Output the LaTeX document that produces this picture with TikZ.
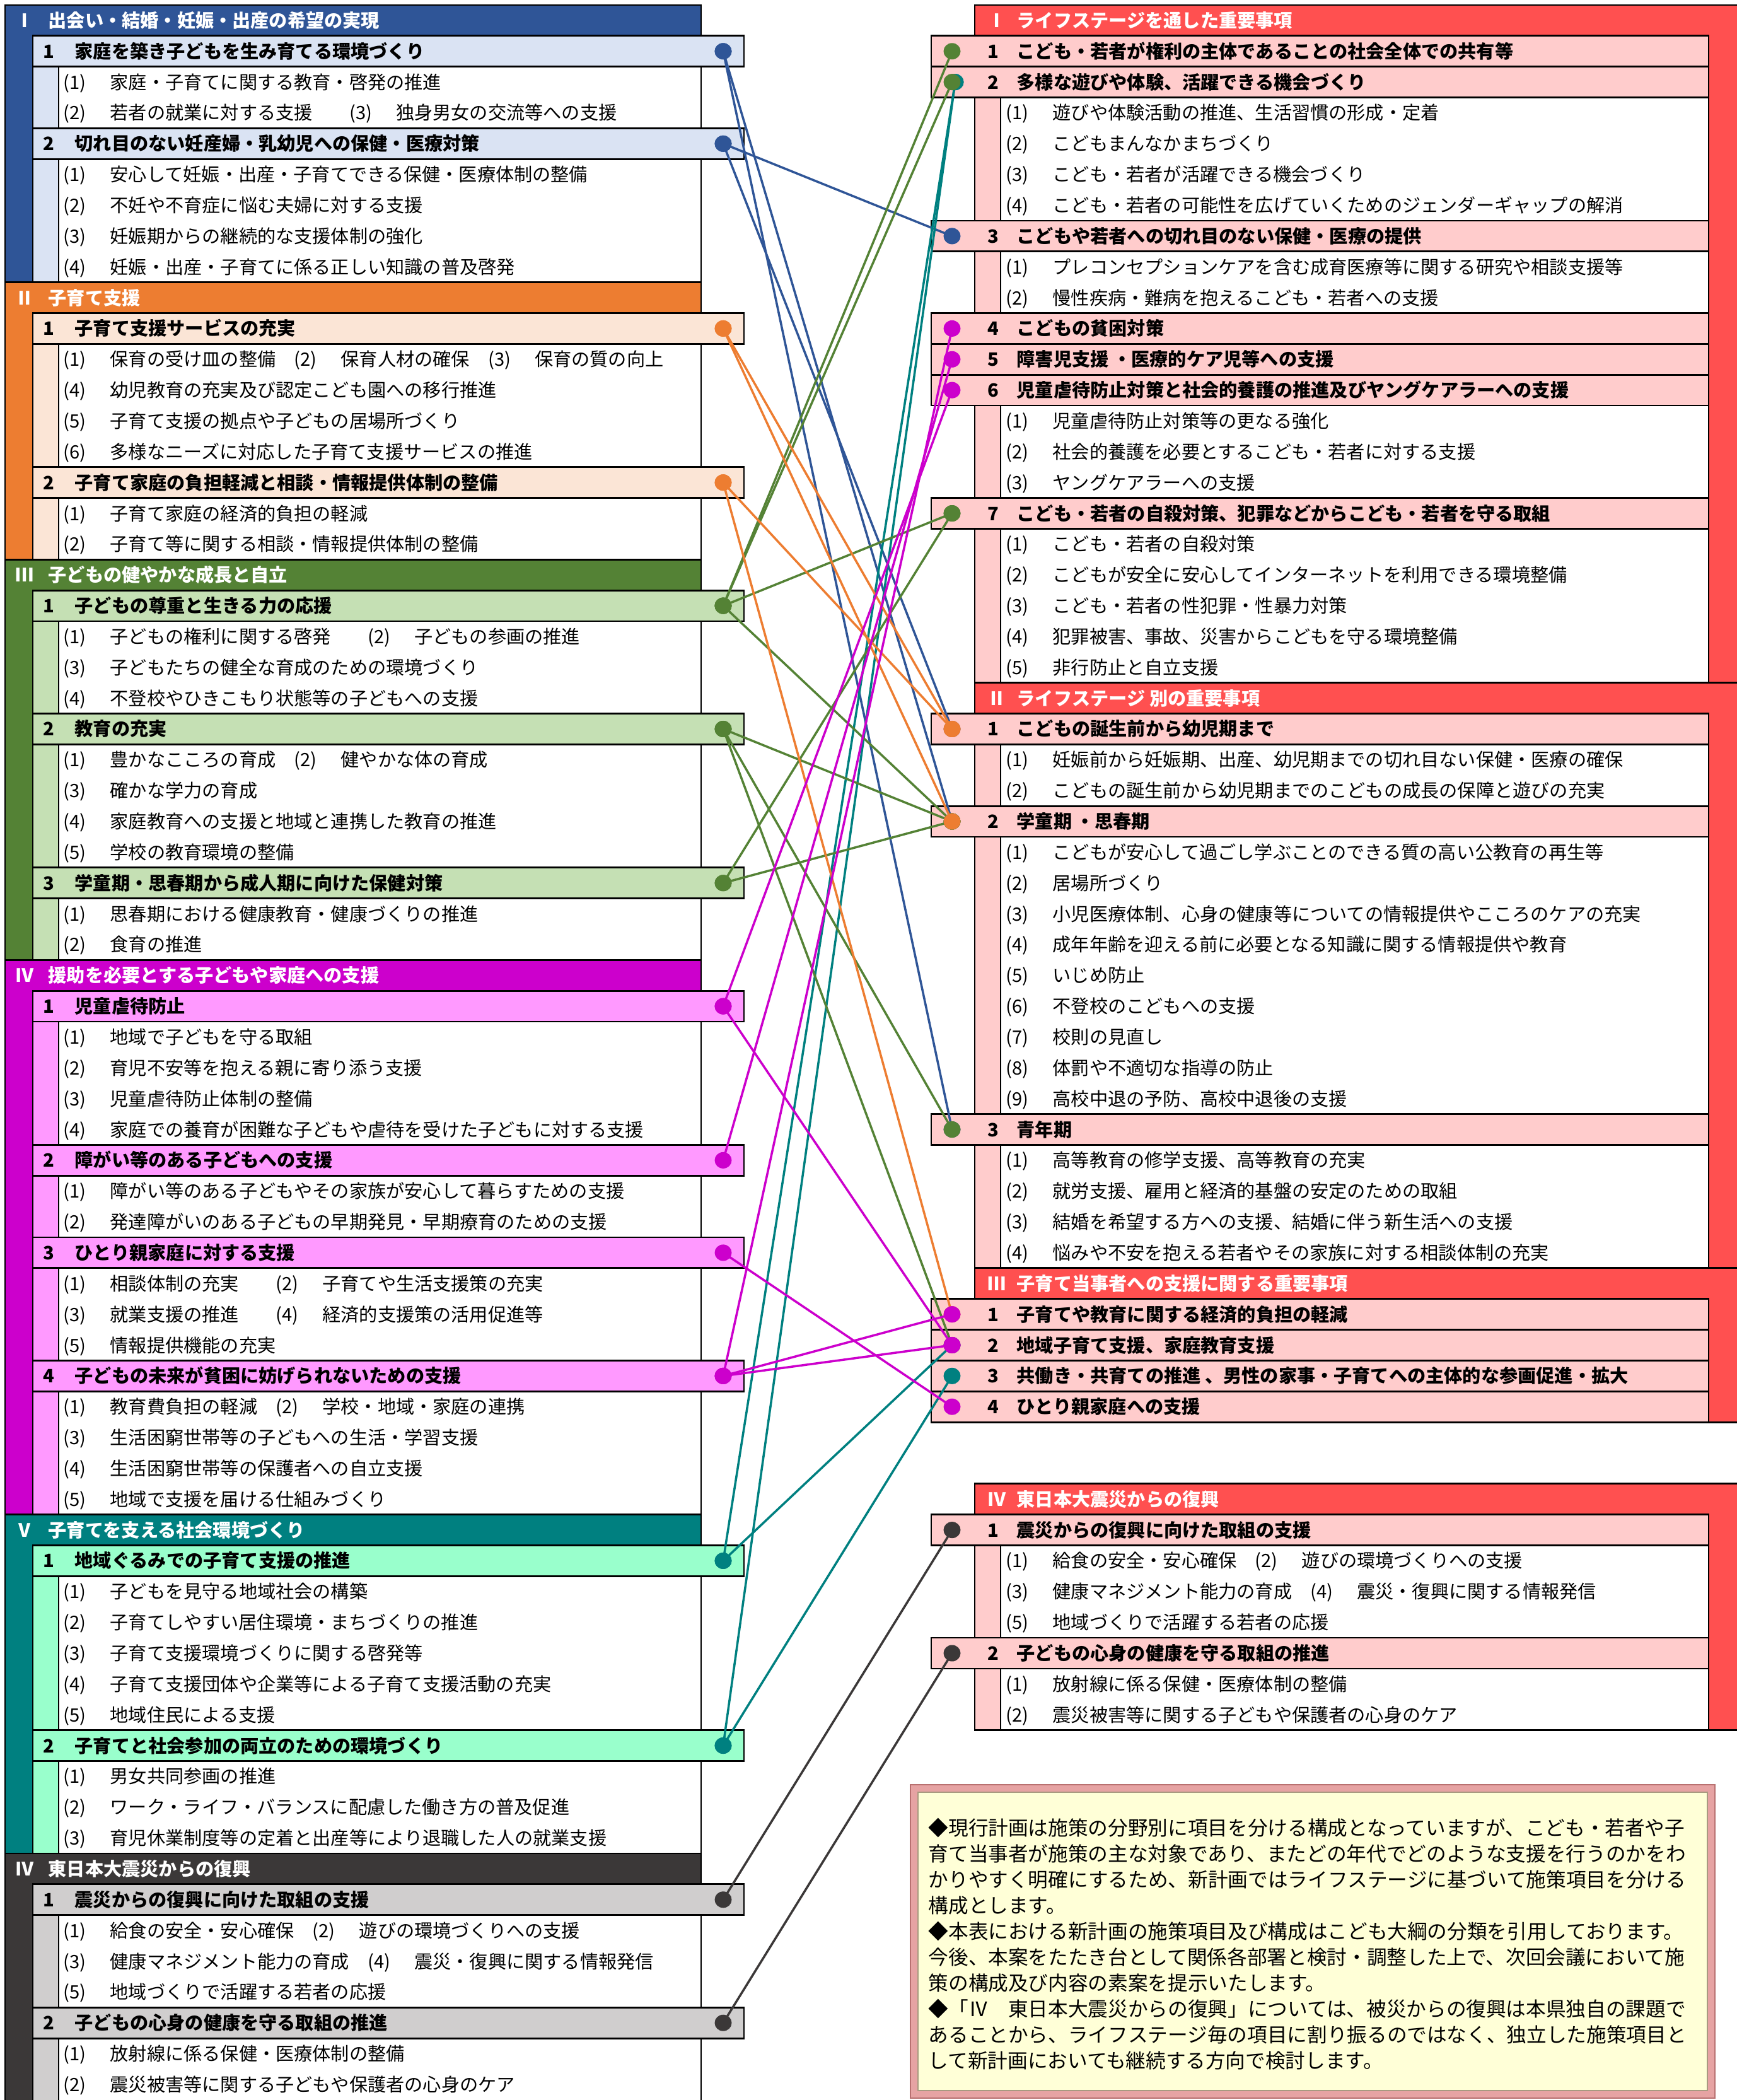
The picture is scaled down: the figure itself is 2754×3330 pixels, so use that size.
\documentclass[tikz,border=0pt]{standalone}
\usepackage{fontspec}
\setmainfont{Noto Sans CJK JP}
\definecolor{cI}{HTML}{2F5597}
\definecolor{cIl}{HTML}{DAE3F3}
\definecolor{cII}{HTML}{ED7D31}
\definecolor{cIIl}{HTML}{FBE5D6}
\definecolor{cIII}{HTML}{548235}
\definecolor{cIIIl}{HTML}{C5E0B4}
\definecolor{cIV}{HTML}{CC00CC}
\definecolor{cIVl}{HTML}{FF99FF}
\definecolor{cV}{HTML}{008080}
\definecolor{cVl}{HTML}{99FFCC}
\definecolor{cVI}{HTML}{3B3838}
\definecolor{cVIl}{HTML}{D0CECE}
\definecolor{rsec}{HTML}{FF5050}
\definecolor{rsub}{HTML}{FFCCCC}
\definecolor{notefill}{HTML}{FFFFD7}
\definecolor{notebd}{HTML}{E6A3A3}
\definecolor{notedk}{HTML}{B87070}
\definecolor{noteinner}{HTML}{A89A80}

\newcommand{\rowfont}{\fontsize{8.3pt}{10pt}\selectfont}
\newcommand{\notefont}{\fontsize{9pt}{11pt}\selectfont}
\newcommand{\rowy}[1]{8+48.85*(#1)}
\newcommand{\nbx}[1]{\makebox[0.74cm][l]{#1}}

\tikzset{
 bd/.style={draw=black,line width=0.8pt},
 secttxt/.style={anchor=base west,inner sep=0pt,text=white,font=\rowfont\bfseries},
 subtxt/.style={anchor=base west,inner sep=0pt,text=black,font=\rowfont\bfseries},
 itemtxt/.style={anchor=base west,inner sep=0pt,text=black,font=\rowfont},
 notetxt/.style={anchor=base west,inner sep=0pt,text=black,font=\notefont},
 conn/.style={line width=1pt},
}

% left column
\newcommand{\LSec}[6]{%
 \draw[bd,fill=#4] (8,{\rowy{#2}}) rectangle (1112,{\rowy{#3}});
 \node[secttxt] (#1) at (24,{\rowy{#2+0.5}+11}) {\makebox[0.52cm][l]{#5}#6};}
\newcommand{\LSub}[6]{%
 \draw[bd,fill=#4] (52,{\rowy{#2}}) rectangle (1112,{\rowy{#3}});
 \draw[bd,fill=white] (93,{\rowy{#2+1}}) rectangle (1112,{\rowy{#3}});
 \draw[bd,fill=#4] (52,{\rowy{#2}}) rectangle (1180,{\rowy{#2+1}});
 \node[subtxt] (#1) at (68,{\rowy{#2+0.5}+11}) {\makebox[0.5cm][l]{#5}#6};
 \coordinate (#1dot) at (1147,{\rowy{#2+0.5}});}
\newcommand{\LItem}[3]{\node[itemtxt] (#1) at (100,{\rowy{#2+0.5}+11}) {#3};}

% right column
\newcommand{\RSec}[5]{%
 \draw[bd,fill=rsec] (1546,{\rowy{#2}}) rectangle (2764,{\rowy{#3}});
 \node[secttxt] (#1) at (1566,{\rowy{#2+0.5}+11}) {\makebox[0.46cm][l]{#4}#5};}
\newcommand{\RSub}[5]{%
 \draw[bd,fill=rsub] (1546,{\rowy{#2}}) rectangle (2710,{\rowy{#3}});
 \draw[bd,fill=white] (1587,{\rowy{#2+1}}) rectangle (2710,{\rowy{#3}});
 \draw[bd,fill=rsub] (1477,{\rowy{#2}}) rectangle (2710,{\rowy{#2+1}});
 \node[subtxt] (#1) at (1566,{\rowy{#2+0.5}+11}) {\makebox[0.46cm][l]{#4}#5};
 \coordinate (#1dot) at (1510,{\rowy{#2+0.5}});}
\newcommand{\RItem}[3]{\node[itemtxt] (#1) at (1595,{\rowy{#2+0.5}+11}) {#3};}

\newcommand{\Conn}[3]{%
 \draw[conn,#1] (#2) -- (#3);
 \fill[#1] (#2) ellipse [x radius=0.135cm,y radius=0.13cm];
 \fill[#1] (#3) ellipse [x radius=0.135cm,y radius=0.13cm];}

\begin{document}
\begin{tikzpicture}[x=0.01cm,y=-0.01cm]
\useasboundingbox (0,0) rectangle (2754,3330);
\fill[white] (0,0) rectangle (2754,3330);

% ===== Left: I
\LSec{LS1}{0}{9}{cI}{Ⅰ}{出会い・結婚・妊娠・出産の希望の実現}
\LSub{L11}{1}{4}{cIl}{1}{家庭を築き子どもを生み育てる環境づくり}
\LItem{L11i1}{2}{\nbx{(1)}家庭・子育てに関する教育・啓発の推進}
\LItem{L11i2}{3}{\nbx{(2)}若者の就業に対する支援　　\nbx{(3)}独身男女の交流等への支援}
\LSub{L12}{4}{9}{cIl}{2}{切れ目のない妊産婦・乳幼児への保健・医療対策}
\LItem{L12i1}{5}{\nbx{(1)}安心して妊娠・出産・子育てできる保健・医療体制の整備}
\LItem{L12i2}{6}{\nbx{(2)}不妊や不育症に悩む夫婦に対する支援}
\LItem{L12i3}{7}{\nbx{(3)}妊娠期からの継続的な支援体制の強化}
\LItem{L12i4}{8}{\nbx{(4)}妊娠・出産・子育てに係る正しい知識の普及啓発}
% ===== Left: II
\LSec{LS2}{9}{18}{cII}{Ⅱ}{子育て支援}
\LSub{L21}{10}{15}{cIIl}{1}{子育て支援サービスの充実}
\LItem{L21i1}{11}{\nbx{(1)}保育の受け皿の整備　\nbx{(2)}保育人材の確保　\nbx{(3)}保育の質の向上}
\LItem{L21i2}{12}{\nbx{(4)}幼児教育の充実及び認定こども園への移行推進}
\LItem{L21i3}{13}{\nbx{(5)}子育て支援の拠点や子どもの居場所づくり}
\LItem{L21i4}{14}{\nbx{(6)}多様なニーズに対応した子育て支援サービスの推進}
\LSub{L22}{15}{18}{cIIl}{2}{子育て家庭の負担軽減と相談・情報提供体制の整備}
\LItem{L22i1}{16}{\nbx{(1)}子育て家庭の経済的負担の軽減}
\LItem{L22i2}{17}{\nbx{(2)}子育て等に関する相談・情報提供体制の整備}
% ===== Left: III
\LSec{LS3}{18}{31}{cIII}{Ⅲ}{子どもの健やかな成長と自立}
\LSub{L31}{19}{23}{cIIIl}{1}{子どもの尊重と生きる力の応援}
\LItem{L31i1}{20}{\nbx{(1)}子どもの権利に関する啓発　　\nbx{(2)}子どもの参画の推進}
\LItem{L31i2}{21}{\nbx{(3)}子どもたちの健全な育成のための環境づくり}
\LItem{L31i3}{22}{\nbx{(4)}不登校やひきこもり状態等の子どもへの支援}
\LSub{L32}{23}{28}{cIIIl}{2}{教育の充実}
\LItem{L32i1}{24}{\nbx{(1)}豊かなこころの育成　\nbx{(2)}健やかな体の育成}
\LItem{L32i2}{25}{\nbx{(3)}確かな学力の育成}
\LItem{L32i3}{26}{\nbx{(4)}家庭教育への支援と地域と連携した教育の推進}
\LItem{L32i4}{27}{\nbx{(5)}学校の教育環境の整備}
\LSub{L33}{28}{31}{cIIIl}{3}{学童期・思春期から成人期に向けた保健対策}
\LItem{L33i1}{29}{\nbx{(1)}思春期における健康教育・健康づくりの推進}
\LItem{L33i2}{30}{\nbx{(2)}食育の推進}
% ===== Left: IV
\LSec{LS4}{31}{49}{cIV}{Ⅳ}{援助を必要とする子どもや家庭への支援}
\LSub{L41}{32}{37}{cIVl}{1}{児童虐待防止}
\LItem{L41i1}{33}{\nbx{(1)}地域で子どもを守る取組}
\LItem{L41i2}{34}{\nbx{(2)}育児不安等を抱える親に寄り添う支援}
\LItem{L41i3}{35}{\nbx{(3)}児童虐待防止体制の整備}
\LItem{L41i4}{36}{\nbx{(4)}家庭での養育が困難な子どもや虐待を受けた子どもに対する支援}
\LSub{L42}{37}{40}{cIVl}{2}{障がい等のある子どもへの支援}
\LItem{L42i1}{38}{\nbx{(1)}障がい等のある子どもやその家族が安心して暮らすための支援}
\LItem{L42i2}{39}{\nbx{(2)}発達障がいのある子どもの早期発見・早期療育のための支援}
\LSub{L43}{40}{44}{cIVl}{3}{ひとり親家庭に対する支援}
\LItem{L43i1}{41}{\nbx{(1)}相談体制の充実　　\nbx{(2)}子育てや生活支援策の充実}
\LItem{L43i2}{42}{\nbx{(3)}就業支援の推進　　\nbx{(4)}経済的支援策の活用促進等}
\LItem{L43i3}{43}{\nbx{(5)}情報提供機能の充実}
\LSub{L44}{44}{49}{cIVl}{4}{子どもの未来が貧困に妨げられないための支援}
\LItem{L44i1}{45}{\nbx{(1)}教育費負担の軽減　\nbx{(2)}学校・地域・家庭の連携}
\LItem{L44i2}{46}{\nbx{(3)}生活困窮世帯等の子どもへの生活・学習支援}
\LItem{L44i3}{47}{\nbx{(4)}生活困窮世帯等の保護者への自立支援}
\LItem{L44i4}{48}{\nbx{(5)}地域で支援を届ける仕組みづくり}
% ===== Left: V
\LSec{LS5}{49}{60}{cV}{Ⅴ}{子育てを支える社会環境づくり}
\LSub{L51}{50}{56}{cVl}{1}{地域ぐるみでの子育て支援の推進}
\LItem{L51i1}{51}{\nbx{(1)}子どもを見守る地域社会の構築}
\LItem{L51i2}{52}{\nbx{(2)}子育てしやすい居住環境・まちづくりの推進}
\LItem{L51i3}{53}{\nbx{(3)}子育て支援環境づくりに関する啓発等}
\LItem{L51i4}{54}{\nbx{(4)}子育て支援団体や企業等による子育て支援活動の充実}
\LItem{L51i5}{55}{\nbx{(5)}地域住民による支援}
\LSub{L52}{56}{60}{cVl}{2}{子育てと社会参加の両立のための環境づくり}
\LItem{L52i1}{57}{\nbx{(1)}男女共同参画の推進}
\LItem{L52i2}{58}{\nbx{(2)}ワーク・ライフ・バランスに配慮した働き方の普及促進}
\LItem{L52i3}{59}{\nbx{(3)}育児休業制度等の定着と出産等により退職した人の就業支援}
% ===== Left: VI (labelled IV)
\LSec{LS6}{60}{68.3}{cVI}{Ⅳ}{東日本大震災からの復興}
\LSub{L61}{61}{65}{cVIl}{1}{震災からの復興に向けた取組の支援}
\LItem{L61i1}{62}{\nbx{(1)}給食の安全・安心確保　\nbx{(2)}遊びの環境づくりへの支援}
\LItem{L61i2}{63}{\nbx{(3)}健康マネジメント能力の育成　\nbx{(4)}震災・復興に関する情報発信}
\LItem{L61i3}{64}{\nbx{(5)}地域づくりで活躍する若者の応援}
\LSub{L62}{65}{68.3}{cVIl}{2}{子どもの心身の健康を守る取組の推進}
\LItem{L62i1}{66}{\nbx{(1)}放射線に係る保健・医療体制の整備}
\LItem{L62i2}{67}{\nbx{(2)}震災被害等に関する子どもや保護者の心身のケア}

% ===== Right: I
\RSec{RS1}{0}{22}{Ⅰ}{ライフステージを通した重要事項}
\RSub{R11}{1}{2}{1}{こども・若者が権利の主体であることの社会全体での共有等}
\RSub{R12}{2}{7}{2}{多様な遊びや体験、活躍できる機会づくり}
\RItem{R12i1}{3}{\nbx{(1)}遊びや体験活動の推進、生活習慣の形成・定着}
\RItem{R12i2}{4}{\nbx{(2)}こどもまんなかまちづくり}
\RItem{R12i3}{5}{\nbx{(3)}こども・若者が活躍できる機会づくり}
\RItem{R12i4}{6}{\nbx{(4)}こども・若者の可能性を広げていくためのジェンダーギャップの解消}
\RSub{R13}{7}{10}{3}{こどもや若者への切れ目のない保健・医療の提供}
\RItem{R13i1}{8}{\nbx{(1)}プレコンセプションケアを含む成育医療等に関する研究や相談支援等}
\RItem{R13i2}{9}{\nbx{(2)}慢性疾病・難病を抱えるこども・若者への支援}
\RSub{R14}{10}{11}{4}{こどもの貧困対策}
\RSub{R15}{11}{12}{5}{障害児支援 ・医療的ケア児等への支援}
\RSub{R16}{12}{16}{6}{児童虐待防止対策と社会的養護の推進及びヤングケアラーへの支援}
\RItem{R16i1}{13}{\nbx{(1)}児童虐待防止対策等の更なる強化}
\RItem{R16i2}{14}{\nbx{(2)}社会的養護を必要とするこども・若者に対する支援}
\RItem{R16i3}{15}{\nbx{(3)}ヤングケアラーへの支援}
\RSub{R17}{16}{22}{7}{こども・若者の自殺対策、犯罪などからこども・若者を守る取組}
\RItem{R17i1}{17}{\nbx{(1)}こども・若者の自殺対策}
\RItem{R17i2}{18}{\nbx{(2)}こどもが安全に安心してインターネットを利用できる環境整備}
\RItem{R17i3}{19}{\nbx{(3)}こども・若者の性犯罪・性暴力対策}
\RItem{R17i4}{20}{\nbx{(4)}犯罪被害、事故、災害からこどもを守る環境整備}
\RItem{R17i5}{21}{\nbx{(5)}非行防止と自立支援}
% ===== Right: II
\RSec{RS2}{22}{41}{Ⅱ}{ライフステージ 別の重要事項}
\RSub{R21}{23}{26}{1}{こどもの誕生前から幼児期まで}
\RItem{R21i1}{24}{\nbx{(1)}妊娠前から妊娠期、出産、幼児期までの切れ目ない保健・医療の確保}
\RItem{R21i2}{25}{\nbx{(2)}こどもの誕生前から幼児期までのこどもの成長の保障と遊びの充実}
\RSub{R22}{26}{36}{2}{学童期 ・思春期}
\RItem{R22i1}{27}{\nbx{(1)}こどもが安心して過ごし学ぶことのできる質の高い公教育の再生等}
\RItem{R22i2}{28}{\nbx{(2)}居場所づくり}
\RItem{R22i3}{29}{\nbx{(3)}小児医療体制、心身の健康等についての情報提供やこころのケアの充実}
\RItem{R22i4}{30}{\nbx{(4)}成年年齢を迎える前に必要となる知識に関する情報提供や教育}
\RItem{R22i5}{31}{\nbx{(5)}いじめ防止}
\RItem{R22i6}{32}{\nbx{(6)}不登校のこどもへの支援}
\RItem{R22i7}{33}{\nbx{(7)}校則の見直し}
\RItem{R22i8}{34}{\nbx{(8)}体罰や不適切な指導の防止}
\RItem{R22i9}{35}{\nbx{(9)}高校中退の予防、高校中退後の支援}
\RSub{R23}{36}{41}{3}{青年期}
\RItem{R23i1}{37}{\nbx{(1)}高等教育の修学支援、高等教育の充実}
\RItem{R23i2}{38}{\nbx{(2)}就労支援、雇用と経済的基盤の安定のための取組}
\RItem{R23i3}{39}{\nbx{(3)}結婚を希望する方への支援、結婚に伴う新生活への支援}
\RItem{R23i4}{40}{\nbx{(4)}悩みや不安を抱える若者やその家族に対する相談体制の充実}
% ===== Right: III
\RSec{RS3}{41}{46}{Ⅲ}{子育て当事者への支援に関する重要事項}
\RSub{R31}{42}{43}{1}{子育てや教育に関する経済的負担の軽減}
\RSub{R32}{43}{44}{2}{地域子育て支援、家庭教育支援}
\RSub{R33}{44}{45}{3}{共働き・共育ての推進 、男性の家事・子育てへの主体的な参画促進・拡大}
\RSub{R34}{45}{46}{4}{ひとり親家庭への支援}
% ===== Right: IV
\RSec{RS4}{48}{56}{Ⅳ}{東日本大震災からの復興}
\RSub{R41}{49}{53}{1}{震災からの復興に向けた取組の支援}
\RItem{R41i1}{50}{\nbx{(1)}給食の安全・安心確保　\nbx{(2)}遊びの環境づくりへの支援}
\RItem{R41i2}{51}{\nbx{(3)}健康マネジメント能力の育成　\nbx{(4)}震災・復興に関する情報発信}
\RItem{R41i3}{52}{\nbx{(5)}地域づくりで活躍する若者の応援}
\RSub{R42}{53}{56}{2}{子どもの心身の健康を守る取組の推進}
\RItem{R42i1}{54}{\nbx{(1)}放射線に係る保健・医療体制の整備}
\RItem{R42i2}{55}{\nbx{(2)}震災被害等に関する子どもや保護者の心身のケア}

% ===== Note box
\fill[notebd] (1444,2830) rectangle (2720,3327);
\draw[notedk,line width=0.6pt] (1444,2830) rectangle (2720,3327);
\fill[notefill] (1456,2842) rectangle (2708,3315);
\draw[noteinner,line width=0.5pt] (1456,2842) rectangle (2708,3315);
\node[notetxt] (n1) at (1472,2910) {◆現行計画は施策の分野別に項目を分ける構成となっていますが、こども・若者や子};
\node[notetxt] (n2) at (1472,2951) {育て当事者が施策の主な対象であり、またどの年代でどのような支援を行うのかをわ};
\node[notetxt] (n3) at (1472,2992) {かりやすく明確にするため、新計画ではライフステージに基づいて施策項目を分ける};
\node[notetxt] (n4) at (1472,3033) {構成とします。};
\node[notetxt] (n5) at (1472,3074) {◆本表における新計画の施策項目及び構成はこども大綱の分類を引用しております。};
\node[notetxt] (n6) at (1472,3115) {今後、本案をたたき台として関係各部署と検討・調整した上で、次回会議において施};
\node[notetxt] (n7) at (1472,3156) {策の構成及び内容の素案を提示いたします。};
\node[notetxt] (n8) at (1472,3197) {◆「Ⅳ　東日本大震災からの復興」については、被災からの復興は本県独自の課題で};
\node[notetxt] (n9) at (1472,3238) {あることから、ライフステージ毎の項目に割り振るのではなく、独立した施策項目と};
\node[notetxt] (n10) at (1472,3279) {して新計画においても継続する方向で検討します。};

% ===== Connectors
\path (R12dot) ++(5,0) coordinate (R12tl);
\Conn{cI}{L11dot}{R22dot}
\Conn{cI}{L11dot}{R23dot}
\Conn{cI}{L12dot}{R13dot}
\Conn{cI}{L12dot}{R21dot}
\Conn{cV}{L51dot}{R12tl}
\Conn{cV}{L51dot}{R32dot}
\Conn{cV}{L52dot}{R12tl}
\Conn{cV}{L52dot}{R33dot}
\Conn{cIII}{L31dot}{R11dot}
\Conn{cIII}{L31dot}{R12dot}
\Conn{cIII}{L31dot}{R17dot}
\Conn{cIII}{L31dot}{R22dot}
\Conn{cIII}{L32dot}{R22dot}
\Conn{cIII}{L32dot}{R23dot}
\Conn{cIII}{L32dot}{R32dot}
\Conn{cIII}{L33dot}{R17dot}
\Conn{cIII}{L33dot}{R22dot}
\Conn{cII}{L21dot}{R21dot}
\Conn{cII}{L21dot}{R22dot}
\Conn{cII}{L22dot}{R21dot}
\Conn{cII}{L22dot}{R31dot}
\Conn{cIV}{L41dot}{R16dot}
\Conn{cIV}{L41dot}{R32dot}
\Conn{cIV}{L42dot}{R15dot}
\Conn{cIV}{L43dot}{R34dot}
\Conn{cIV}{L44dot}{R14dot}
\Conn{cIV}{L44dot}{R31dot}
\Conn{cIV}{L44dot}{R32dot}
\Conn{cVI}{L61dot}{R41dot}
\Conn{cVI}{L62dot}{R42dot}
\end{tikzpicture}
\end{document}
